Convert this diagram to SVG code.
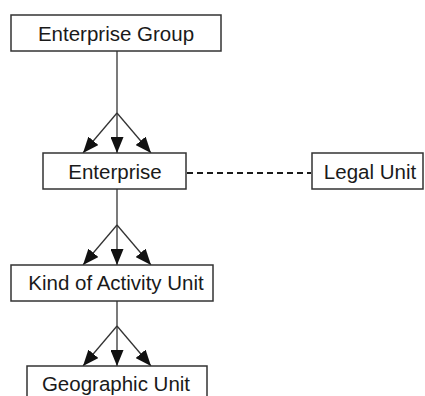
<svg xmlns="http://www.w3.org/2000/svg" width="425" height="396" viewBox="0 0 425 396">
<style>
.box{fill:#fff;stroke:#333;stroke-width:1.5}
.lbl{font-family:"Liberation Sans",Arial,sans-serif;font-size:20.5px;fill:#1a1a1a;text-anchor:middle}
.ln{stroke:#333;stroke-width:1.3;fill:none}
.dash{stroke:#1a1a1a;stroke-width:2;stroke-dasharray:6 4;fill:none}
</style>
<defs>
<marker id="ah" markerUnits="userSpaceOnUse" markerWidth="16" markerHeight="13" refX="16" refY="6.5" orient="auto">
<path d="M0,0 L16,6.5 L0,13 Z" fill="#111"/>
</marker>
</defs>
<rect width="425" height="396" fill="#fff"/>
<g id="connectors">
<line class="ln" x1="117" y1="51" x2="117" y2="113"/>
<line class="ln" x1="117" y1="113" x2="83" y2="153" marker-end="url(#ah)"/>
<line class="ln" x1="117" y1="113" x2="117" y2="153" marker-end="url(#ah)"/>
<line class="ln" x1="117" y1="113" x2="151" y2="153" marker-end="url(#ah)"/>
<line class="ln" x1="117" y1="189" x2="117" y2="225"/>
<line class="ln" x1="117" y1="225" x2="83" y2="265" marker-end="url(#ah)"/>
<line class="ln" x1="117" y1="225" x2="117" y2="265" marker-end="url(#ah)"/>
<line class="ln" x1="117" y1="225" x2="151" y2="265" marker-end="url(#ah)"/>
<line class="ln" x1="117" y1="301" x2="117" y2="326"/>
<line class="ln" x1="117" y1="326" x2="83" y2="366" marker-end="url(#ah)"/>
<line class="ln" x1="117" y1="326" x2="117" y2="366" marker-end="url(#ah)"/>
<line class="ln" x1="117" y1="326" x2="151" y2="366" marker-end="url(#ah)"/>
<line class="dash" x1="187" y1="173" x2="311" y2="173"/>
</g>
<g id="enterprise-group">
<rect class="box" x="11" y="15" width="210" height="36"/>
<text class="lbl" x="116" y="41">Enterprise Group</text>
</g>
<g id="enterprise">
<rect class="box" x="43" y="153" width="143" height="36"/>
<text class="lbl" x="115" y="179">Enterprise</text>
</g>
<g id="legal-unit">
<rect class="box" x="312" y="153" width="111" height="36"/>
<text class="lbl" x="370" y="179">Legal Unit</text>
</g>
<g id="kind-of-activity-unit">
<rect class="box" x="11" y="265" width="202" height="36"/>
<text class="lbl" x="116" y="290">Kind of Activity Unit</text>
</g>
<g id="geographic-unit">
<rect class="box" x="27" y="366" width="180" height="36"/>
<text class="lbl" x="116" y="391">Geographic Unit</text>
</g>
</svg>
